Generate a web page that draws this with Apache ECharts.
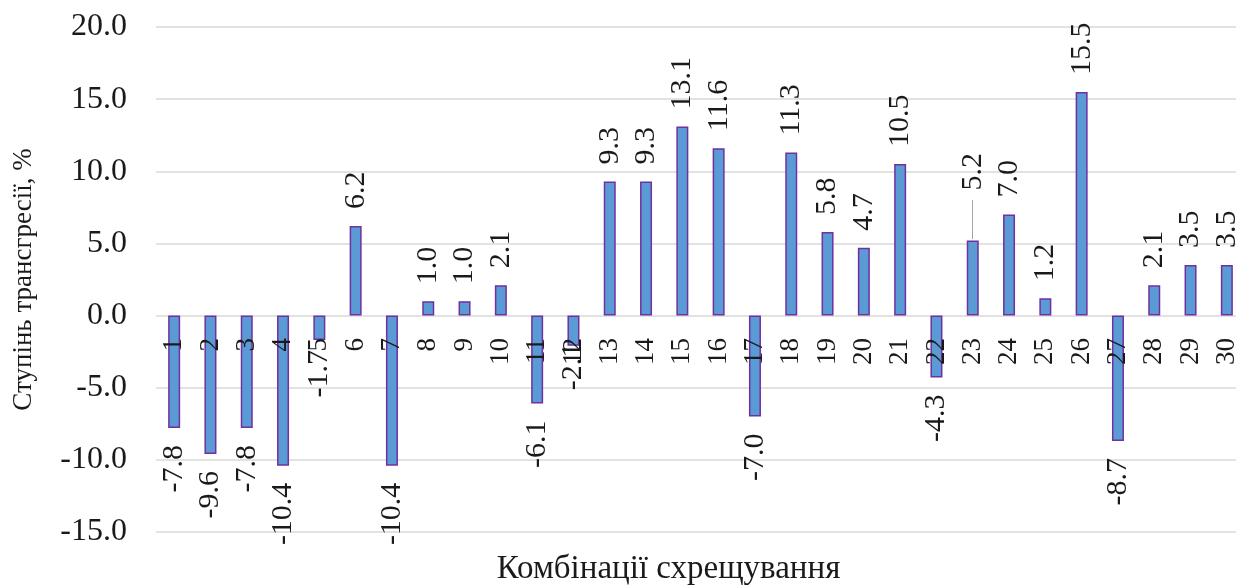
<!DOCTYPE html>
<html>
<head>
<meta charset="utf-8">
<script src="https://cdn.jsdelivr.net/npm/echarts@6/dist/echarts.min.js"></script>
<style>
  html, body { margin: 0; padding: 0; background: #fff; }
  #chart { width: 1236px; height: 587px; }
</style>
</head>
<body>
<div id="chart"></div>
<script>
// комбінації схрещування
const categories = ['1', '2', '3', '4', '5', '6', '7', '8', '9', '10',
  '11', '12', '13', '14', '15', '16', '17', '18', '19', '20',
  '21', '22', '23', '24', '25', '26', '27', '28', '29', '30'];
// ступінь трансгресії, %
const values = [-7.8, -9.6, -7.8, -10.4, -1.7, 6.2, -10.4, 1.0, 1.0, 2.1,
  -6.1, -2.1, 9.3, 9.3, 13.1, 11.6, -7.0, 11.3, 5.8, 4.7,
  10.5, -4.3, 5.2, 7.0, 1.2, 15.5, -8.7, 2.1, 3.5, 3.5];
const yTicks = [-15, -10, -5, 0, 5, 10, 15, 20];

const font = "'Liberation Serif', 'Times New Roman', serif";
const textColor = '#1a1a1a';

let chart = echarts.init(document.getElementById('chart'));

// мітки над додатними стовпцями, під від'ємними
let data = values.map(function (v, i) {
  let item = {
    value: v,
    label: v >= 0
      ? { position: 'top', align: 'left' }
      : { position: 'bottom', align: 'right' }
  };
  if (i === 22) item.label.distance = 50; // винесена мітка 23
  if (i === 4) item.label.distance = 10;
  if (i === 11) item.label.distance = -3;
  return item;
});

let option = {
  animation: false,
  grid: {
    left: 156,
    right: -9,
    top: 27,
    bottom: 55,
    outerBoundsMode: 'none'
  },
  xAxis: {
    type: 'category',
    data: categories,
    z: 10,
    name: 'Комбінації схрещування',
    nameLocation: 'middle',
    nameGap: 21,
    nameMoveOverlap: false,
    nameTextStyle: {
      fontFamily: font, fontSize: 33, color: textColor,
      padding: [0, 64, 0, 0]
    },
    axisLine: { onZero: false, show: false },
    axisTick: { show: false },
    axisLabel: {
      rotate: 90,
      // підписи категорій стоять під нульовою лінією
      margin: -194,
      fontFamily: font,
      fontSize: 27,
      color: textColor,
      interval: 0
    }
  },
  yAxis: {
    type: 'value',
    min: yTicks[0],
    max: yTicks[yTicks.length - 1],
    interval: 5,
    name: 'Ступінь трансгресії, %',
    nameLocation: 'middle',
    nameGap: 119,
    nameMoveOverlap: false,
    nameTextStyle: { fontFamily: font, fontSize: 27, color: textColor },
    axisLine: { show: false },
    axisTick: { show: false },
    splitLine: { lineStyle: { color: '#d9d9d9', width: 1.5 } },
    axisLabel: {
      margin: 29,
      fontFamily: font,
      fontSize: 32,
      color: textColor,
      formatter: function (v) { return v.toFixed(1); }
    }
  },
  series: [{
    type: 'bar',
    data: data,
    barWidth: 12,
    itemStyle: {
      color: '#5b9bd5',
      borderColor: '#7030a0',
      borderWidth: 1.5
    },
    label: {
      show: true,
      rotate: 90,
      distance: 17,
      verticalAlign: 'middle',
      fontFamily: font,
      fontSize: 30,
      color: textColor,
      formatter: function (p) { return p.value.toFixed(1); }
    },
    // виносна лінія до мітки 23-ї комбінації
    markLine: {
      silent: true,
      symbol: 'none',
      label: { show: false },
      lineStyle: { color: '#a6a6a6', width: 1, type: 'solid' },
      data: [[{ coord: [22, 5.3] }, { coord: [22, 8.0] }]]
    }
  }]
};

chart.setOption(option);
</script>
</body>
</html>
